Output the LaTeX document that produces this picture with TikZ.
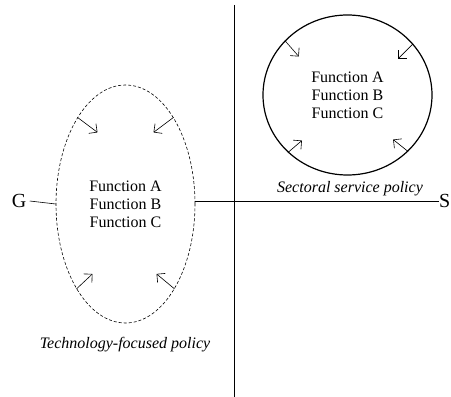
\documentclass[tikz,border=0pt]{standalone}
\usepackage{fontspec}
\setmainfont{Liberation Serif}
\usetikzlibrary{shapes.geometric,arrows.meta}
\tikzset{
  funcs/.style={align=center, font=\fontsize{16}{18}\selectfont},
  inarrow/.style={semithick, -{Straight Barb[length=6pt,width=12pt]}},
  policy/.style={font=\fontsize{16}{18}\selectfont\itshape}
}
\begin{document}
\begin{tikzpicture}[x=1pt, y=1pt]
    \useasboundingbox (0, 0) rectangle (451, 397);
        % axes
        \coordinate (top) at (234, 392);
        \coordinate (bot) at (234, 0);
        \draw[semithick] (top) to (bot);
        \node[font=\fontsize{20}{20}\selectfont] (G) at (19, 196) {G};
        \node[font=\fontsize{20}{20}\selectfont, anchor=west, inner sep=0] (S) at (439, 196) {S};
        %
        \node[ellipse, draw, densely dashed, semithick, minimum width=139, minimum height=238, inner sep=0, funcs] (tech) at (125.5, 193) {Function A\\Function B\\Function C};
        \node[ellipse, draw, very thick, minimum width=169, minimum height=160, inner sep=0, funcs] (sect) at (347.5, 302) {Function A\\Function B\\Function C};
        \draw[semithick] (G.east) to (tech.west);
        \draw[semithick] (tech.east |- S.west) to (S.west);
        %
        \draw[inarrow] (tech.119) to ++(20, -15);
        \draw[inarrow] (tech.61) to ++(-20, -15);
        \draw[inarrow] (tech.240) to ++(16, 15);
        \draw[inarrow] (tech.300) to ++(-18, 15);
        \draw[inarrow] (sect.139) to ++(14, -16);
        \draw[inarrow] (sect.38) to ++(-15, -15);
        \draw[inarrow] (sect.224) to ++(14, 12);
        \draw[inarrow] (sect.317) to ++(-15, 12);
        %
        \node[policy] (techlbl) at (125, 52) {Technology-focused policy};
        \node[policy] (sectlbl) at (350, 208) {Sectoral service policy};
    \end{tikzpicture}
\end{document}
